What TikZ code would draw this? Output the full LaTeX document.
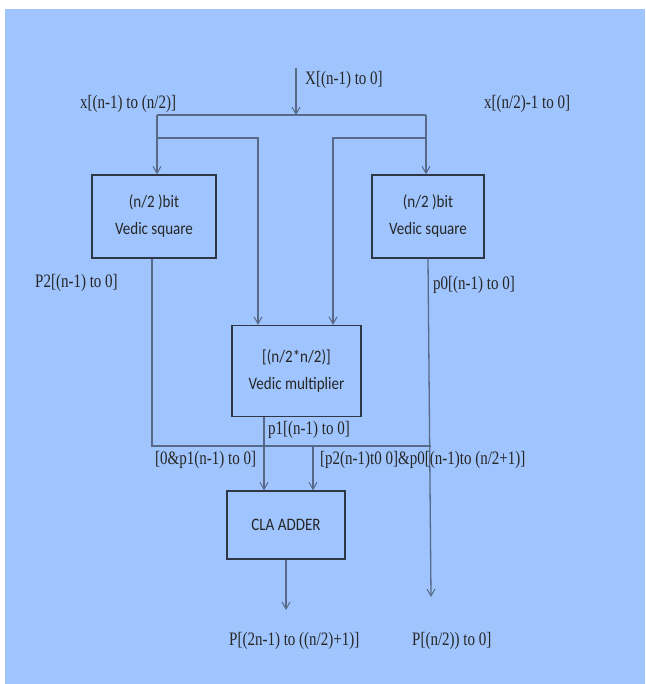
\documentclass[tikz,border=0pt]{standalone}
\usepackage{fontspec}
\usetikzlibrary{arrows.meta}
\newfontfamily\labfont[FakeStretch=0.79]{Liberation Serif}
\newfontfamily\boxfont[FakeStretch=0.86]{Carlito}
\definecolor{bg}{RGB}{160,197,254}
\definecolor{wire}{RGB}{88,104,135}
\definecolor{edge}{RGB}{45,55,70}
\tikzset{
  wireline/.style={draw=wire, line width=1.3pt},
  arr/.style={wireline, -{Straight Barb[length=7pt,width=8pt,line width=1pt]}},
  blk/.style={draw=edge, line width=1.4pt, inner sep=0pt, align=center,
    font=\fontsize{17.5}{27}\boxfont, text=black!85},
  lab/.style={anchor=west, inner sep=0pt, font=\fontsize{19}{20}\labfont, text=black!85}
}
\begin{document}
\begin{tikzpicture}[x=1pt, y=-1pt]
\useasboundingbox (0,0) rectangle (645,684);
\fill[bg] (5,9) rectangle (645,684);

% blocks
\node[blk, minimum width=124pt, minimum height=83pt] (lsq) at (154,216.5) {(n/2 )bit\\Vedic square};
\node[blk, minimum width=112pt, minimum height=83pt] (rsq) at (428,216.5) {(n/2 )bit\\Vedic square};
\node[blk, minimum width=129pt, minimum height=91pt] (mul) at (296.5,371) {[(n/2*n/2)]\\Vedic multiplier};
\node[blk, minimum width=118pt, minimum height=68pt] (cla) at (286,525) {CLA ADDER};

% coordinates
\coordinate (xin) at (296,68);
\coordinate (xs) at (296,115);
\coordinate (tl) at (157,115);
\coordinate (tr) at (426,115);
\coordinate (ml) at (157,138);
\coordinate (mlr) at (258,138);
\coordinate (mr) at (426,138);
\coordinate (mrl) at (333,138);
\coordinate (lo) at (152,446);
\coordinate (ro) at (431,446);
\coordinate (b2) at (313,446);
\coordinate (p0end) at (431,597);
\coordinate (pend) at (286,610);

% input
\draw[arr] (xin) -- (xs);
\draw[wireline] (tl) -- (tr);
\draw[arr] (tl) -- (tl |- lsq.north);
\draw[arr] (tr) -- (tr |- rsq.north);
\draw[arr] (ml) -- (mlr) -- (mlr |- mul.north);
\draw[arr] (mr) -- (mrl) -- (mrl |- mul.north);

% outputs
\draw[wireline] (lo |- lsq.south) -- (lo) -- (ro);
\draw[arr] (rsq.south) -- (p0end);
\draw[arr] (mul.south -| 264,0) -- (264,0 |- cla.north);
\draw[arr] (b2) -- (b2 |- cla.north);
\draw[arr] (cla.south) -- (pend);

% labels
\node[lab] (lx) at (305,80) {X[(n-1) to 0]};
\node[lab] (lxl) at (80,104) {x[(n-1) to (n/2)]};
\node[lab] (lxr) at (484,104) {x[(n/2)-1 to 0]};
\node[lab] (lp2) at (35,283) {P2[(n-1) to 0]};
\node[lab] (lp0) at (433,285) {p0[(n-1) to 0]};
\node[lab] (lp1) at (268,430) {p1[(n-1) to 0]};
\node[lab] (la) at (155,460) {[0\&p1(n-1) to 0]};
\node[lab] (lb) at (320,460) {[p2(n-1)t0 0]\&p0[(n-1)to (n/2+1)]};
\node[lab] (lo1) at (229,641) {P[(2n-1) to ((n/2)+1)]};
\node[lab] (lo2) at (412,641) {P[(n/2)) to 0]};
\end{tikzpicture}
\end{document}
